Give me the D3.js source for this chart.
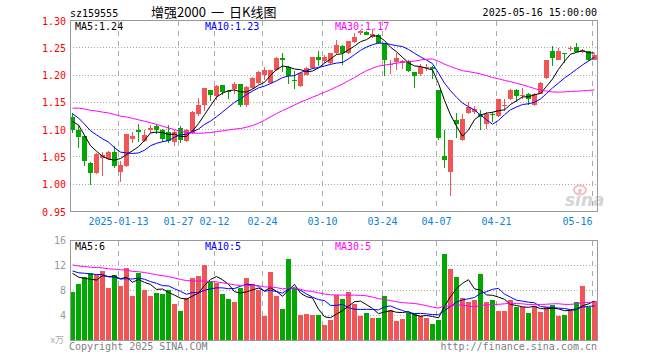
<!DOCTYPE html>
<html>
<head>
<meta charset="utf-8">
<title>增强2000 日K线图</title>
<script src="https://cdn.jsdelivr.net/npm/d3@7"></script>
<style>
  body { margin: 0; background: #fff; }
  text { font-family: "DejaVu Sans Mono", monospace; font-size: 10px; }
</style>
</head>
<body>
<script>
// trading days shown (2024-12-31 .. 2025-05-16)
var dates = ["12-31","01-02","01-03","01-06","01-07","01-08","01-09","01-10",
  "01-13","01-14","01-15","01-16","01-17","01-20","01-21","01-22","01-23","01-24",
  "01-27","02-05","02-06","02-07","02-10","02-11","02-12","02-13","02-14",
  "02-17","02-18","02-19","02-20","02-21","02-24","02-25","02-26","02-27","02-28",
  "03-03","03-04","03-05","03-06","03-07","03-10","03-11","03-12","03-13","03-14",
  "03-17","03-18","03-19","03-20","03-21","03-24","03-25","03-26","03-27","03-28",
  "03-31","04-01","04-02","04-03","04-07","04-08","04-09","04-10","04-11",
  "04-14","04-15","04-16","04-17","04-18","04-21","04-22","04-23","04-24","04-25",
  "04-28","04-29","04-30","05-06","05-07","05-08","05-09",
  "05-12","05-13","05-14","05-15","05-16"];

var open = [1.123,1.098,1.088,1.038,1.019,1.048,1.046,1.058,1.021,1.032,
  1.082,1.098,1.079,1.099,1.105,1.099,1.095,1.077,1.102,1.078,
  1.093,1.127,1.145,1.172,1.160,1.181,1.170,1.174,1.183,1.145,
  1.176,1.184,1.200,1.184,1.208,1.230,1.213,1.190,1.179,1.200,
  1.212,1.232,1.224,1.221,1.239,1.252,1.239,1.259,1.276,1.278,
  1.268,1.273,1.257,1.217,1.223,1.222,1.224,1.204,1.201,1.212,
  1.213,1.172,1.050,1.021,1.116,1.080,1.129,1.131,1.127,1.109,
  1.128,1.124,1.143,1.155,1.172,1.161,1.165,1.144,1.164,1.193,
  1.243,1.227,1.239,1.248,1.251,1.242,1.243,1.227];
var high = [1.130,1.106,1.089,1.039,1.056,1.058,1.060,1.069,1.041,1.092,
  1.095,1.110,1.098,1.108,1.110,1.100,1.107,1.099,1.105,1.100,
  1.134,1.157,1.176,1.172,1.181,1.181,1.171,1.186,1.183,1.179,
  1.195,1.207,1.213,1.209,1.232,1.240,1.216,1.206,1.204,1.213,
  1.233,1.243,1.235,1.240,1.264,1.254,1.262,1.276,1.282,1.279,
  1.284,1.275,1.258,1.226,1.239,1.227,1.226,1.205,1.220,1.220,
  1.215,1.172,1.099,1.081,1.129,1.127,1.149,1.143,1.135,1.132,
  1.132,1.155,1.155,1.173,1.173,1.175,1.167,1.167,1.186,1.226,
  1.253,1.249,1.240,1.253,1.258,1.247,1.243,1.238];
var low = [1.093,1.066,1.032,0.997,1.017,1.015,1.044,1.029,1.004,1.031,
  1.075,1.076,1.076,1.093,1.092,1.077,1.075,1.070,1.075,1.076,
  1.091,1.125,1.134,1.151,1.154,1.162,1.156,1.165,1.140,1.140,
  1.173,1.182,1.190,1.182,1.207,1.204,1.183,1.174,1.178,1.199,
  1.211,1.215,1.222,1.219,1.238,1.218,1.238,1.258,1.272,1.272,
  1.267,1.256,1.198,1.201,1.209,1.210,1.204,1.176,1.198,1.207,
  1.192,1.080,1.028,0.978,1.083,1.078,1.127,1.127,1.099,1.100,
  1.114,1.123,1.134,1.153,1.149,1.155,1.144,1.143,1.164,1.192,
  1.215,1.226,1.221,1.243,1.241,1.239,1.224,1.226];
var close = [1.098,1.085,1.041,1.019,1.055,1.052,1.058,1.032,1.034,1.091,
  1.087,1.095,1.090,1.102,1.099,1.082,1.078,1.094,1.080,1.099,
  1.132,1.145,1.176,1.162,1.179,1.168,1.168,1.182,1.145,1.177,
  1.194,1.205,1.208,1.208,1.231,1.226,1.197,1.189,1.202,1.212,
  1.232,1.226,1.233,1.239,1.254,1.239,1.261,1.268,1.279,1.273,
  1.275,1.257,1.227,1.219,1.231,1.224,1.207,1.198,1.214,1.214,
  1.210,1.083,1.043,1.081,1.110,1.118,1.141,1.137,1.123,1.127,
  1.127,1.155,1.145,1.172,1.161,1.163,1.155,1.164,1.184,1.226,
  1.230,1.244,1.238,1.249,1.242,1.245,1.226,1.235];
// volume, 万
var volume = [7.73,9.0,10.1,10.8,10.4,11.1,8.37,10.45,8.69,11.57,
  7.09,10.66,8.05,7.09,7.57,7.41,8.0,5.81,4.69,6.72,
  9.97,10.29,12.05,9.38,9.11,7.41,6.61,6.13,8.37,9.97,
  9.0,8.05,3.89,10.93,7.09,5.01,13.0,8.4,4.05,4.2,
  3.95,4.05,2.35,3.25,7.2,6.6,7.73,5.81,3.78,4.37,
  3.57,3.57,7.09,4.85,3.09,3.36,4.37,4.37,3.89,3.57,
  2.61,3.25,13.8,11.4,10.13,6.77,6.13,6.45,10.6,6.13,
  6.45,4.69,4.69,6.45,5.33,5.33,4.37,5.49,4.53,5.33,
  5.65,3.89,4.05,4.69,6.13,8.69,5.33,6.29];
// 29 sessions before the window (only feed the moving averages)
var prevClose = [1.08,1.09,1.085,1.10,1.11,1.105,1.115,1.125,
  1.14,1.16,1.175,1.17,1.185,1.19,1.18,1.175,1.185,1.17,1.165,1.165,
  1.16,1.155,1.14,1.13,1.125,1.117,1.135,1.115,1.105];
var prevVolume = [13.5,12.8,14.2,11.9,12.6,13.1,12.2,11.5,12.9,13.8,
  12.1,11.7,12.4,13.0,11.8,12.6,12.3,11.9,12.0,11.3,
  11.8,10.9,12.0,11.2,11.15,12.1,11.0,11.6,10.92];

var priceTicks = [0.95,1.00,1.05,1.10,1.15,1.20,1.25,1.30];
var volTicks = [4,8,12,16];
var tickDates = ["01-13","01-27","02-12","02-24","03-10","03-24","04-07","04-21","05-16"];
var tickLabels = ["2025-01-13","01-27","02-12","02-24","03-10","03-24","04-07","04-21","05-16"];
var maPeriods = [5,10,30];
var maColors = ["#000000","#0000ff","#ff00ff"];
var priceMaText = ["MA5:1.24","MA10:1.23","MA30:1.17"];
var volMaText = ["MA5:6","MA10:5","MA30:5"];

var W = 660, H = 360;
var left = 70, right = 597;
var red = "#f25555", green = "#00a800";

var svg = d3.select("body").append("svg")
  .attr("width", W).attr("height", H);

var x = d3.scaleBand().domain(dates).range([left - 1, right]);
var yP = d3.scaleLinear().domain([0.95, 1.30]).range([211, 20]);
var yV = d3.scaleLinear().domain([0, 16]).range([340, 240]);

function ma(all, n, count) {
  var out = [];
  var off = all.length - count;
  for (var i = 0; i < count; i++) {
    out.push(d3.mean(all.slice(off + i - n + 1, off + i + 1)));
  }
  return out;
}
var allClose = prevClose.concat(close);
var allVol = prevVolume.concat(volume);
var priceMa = maPeriods.map(function(n) { return ma(allClose, n, close.length); });
var volMa = maPeriods.map(function(n) { return ma(allVol, n, volume.length); });

var idx = d3.range(dates.length);
var cx = function(i) { return x(dates[i]) + 3.5; };
function isUp(i) { return close[i] >= open[i]; }

// ---------- header ----------
svg.append("text").attr("x", 70).attr("y", 16.5).text("sz159555");
var title = svg.append("text").attr("y", 17)
  .style("font-family", "'Noto Sans CJK SC', sans-serif").style("font-size", "13px");
title.append("tspan").attr("x", 151).text("增强2000");
title.append("tspan").attr("x", 211).text("一");
title.append("tspan").attr("x", 229).text("日K线图");
svg.append("text").attr("x", 597).attr("y", 16).attr("text-anchor", "end")
  .text("2025-05-16 15:00:00");

// ---------- grids ----------
function panelGrid(yScale, levels, top, bottom) {
  var g = svg.append("g").attr("shape-rendering", "crispEdges");
  g.selectAll("line.h").data(levels).enter().append("line")
    .attr("x1", left).attr("x2", right)
    .attr("y1", function(d) { return Math.round(yScale(d)) + 0.5; })
    .attr("y2", function(d) { return Math.round(yScale(d)) + 0.5; })
    .attr("stroke", "#aaa").attr("stroke-dasharray", "1,2");
  g.selectAll("line.v").data(tickDates).enter().append("line")
    .attr("x1", function(d) { return x(d) + 1.5; })
    .attr("x2", function(d) { return x(d) + 1.5; })
    .attr("y1", top).attr("y2", bottom)
    .attr("stroke", "#aaa").attr("stroke-dasharray", "5,5");
}
panelGrid(yP, [1.00,1.05,1.10,1.15,1.20,1.25], 21, 211);
panelGrid(yV, [4,8,12], 241, 340);

// price axis labels
svg.append("g").selectAll("text").data(priceTicks).enter().append("text")
  .attr("x", 66).attr("y", function(d) { return yP(d) + 4.5; })
  .attr("text-anchor", "end").attr("fill", "#ff0000")
  .text(function(d) { return d.toFixed(2); });

// volume axis labels
svg.append("g").selectAll("text").data(volTicks).enter().append("text")
  .attr("x", 66).attr("y", function(d) { return yV(d) + 4; })
  .attr("text-anchor", "end").attr("fill", "#999")
  .text(function(d) { return d; });
svg.append("text").attr("x", 64).attr("y", 343).attr("text-anchor", "end")
  .attr("fill", "#aaa").style("font-family", "'Noto Sans CJK SC', sans-serif")
  .style("font-size", "9px").text("x万");

// date labels
svg.append("g").selectAll("text").data(tickDates).enter().append("text")
  .attr("x", function(d) { return x(d) + 1.5; })
  .attr("y", 225)
  .attr("text-anchor", function(d, i) { return i === tickDates.length - 1 ? "end" : "middle"; })
  .attr("fill", "#0a84d8")
  .text(function(d, i) { return tickLabels[i]; });

// sina watermark
var wm = svg.append("g").attr("opacity", 0.75);
wm.append("ellipse").attr("cx", 580).attr("cy", 190).attr("rx", 6).attr("ry", 4.5)
  .attr("fill", "none").attr("stroke", "#f0a8a8").attr("stroke-width", 2);
wm.append("circle").attr("cx", 580).attr("cy", 190.5).attr("r", 1.8).attr("fill", "#f0a8a8");
wm.append("text").attr("x", 565).attr("y", 206)
  .style("font-family", "'DejaVu Sans', sans-serif").style("font-size", "17px")
  .style("font-weight", "bold").style("font-style", "italic")
  .attr("fill", "#c8c8c8").text("sina");

// ---------- candles ----------
var cg = svg.append("g").attr("shape-rendering", "crispEdges");
cg.selectAll("line").data(idx).enter().append("line")
  .attr("x1", cx).attr("x2", cx)
  .attr("y1", function(i) { return yP(high[i]); })
  .attr("y2", function(i) { return yP(low[i]); })
  .attr("stroke", function(i) { return isUp(i) ? red : green; });
cg.selectAll("rect").data(idx).enter().append("rect")
  .attr("x", function(i) { return x(dates[i]) + 1; })
  .attr("width", 5)
  .attr("y", function(i) { return yP(Math.max(open[i], close[i])); })
  .attr("height", function(i) { return Math.max(1, Math.abs(yP(open[i]) - yP(close[i]))); })
  .attr("fill", function(i) { return isUp(i) ? red : green; });

// ---------- volume bars ----------
svg.append("g").attr("shape-rendering", "crispEdges")
  .selectAll("rect").data(idx).enter().append("rect")
  .attr("x", function(i) { return x(dates[i]) + 1; })
  .attr("width", 5)
  .attr("y", function(i) { return yV(volume[i]); })
  .attr("height", function(i) { return yV(0) - yV(volume[i]); })
  .attr("fill", function(i) { return isUp(i) ? red : green; });

// ---------- moving averages ----------
maPeriods.forEach(function(n, k) {
  svg.append("path").datum(idx)
    .attr("fill", "none").attr("stroke", maColors[k]).attr("stroke-width", 1)
    .attr("d", d3.line().x(cx).y(function(i) { return yP(priceMa[k][i]); }));
  svg.append("path").datum(idx)
    .attr("fill", "none").attr("stroke", maColors[k]).attr("stroke-width", 1)
    .attr("d", d3.line().x(cx).y(function(i) { return yV(volMa[k][i]); }));
});

// legends
var legendX = [75, 205, 335];
maPeriods.forEach(function(n, k) {
  svg.append("text").attr("x", legendX[k]).attr("y", 29.5)
    .attr("fill", maColors[k]).text(priceMaText[k]);
  svg.append("text").attr("x", legendX[k]).attr("y", 250)
    .attr("fill", maColors[k]).text(volMaText[k]);
});

// ---------- frames ----------
svg.append("rect").attr("x", 70.5).attr("y", 20.5).attr("width", 527).attr("height", 191)
  .attr("fill", "none").attr("stroke", "#999").attr("shape-rendering", "crispEdges");
svg.append("rect").attr("x", 70.5).attr("y", 240.5).attr("width", 527).attr("height", 100)
  .attr("fill", "none").attr("stroke", "#999").attr("shape-rendering", "crispEdges");

// footer
svg.append("text").attr("x", 69).attr("y", 349.5).attr("fill", "#808080")
  .text("Copyright 2025 SINA.COM");
svg.append("text").attr("x", 597).attr("y", 349.5).attr("text-anchor", "end")
  .attr("fill", "#808080").text("http://finance.sina.com.cn");
</script>
</body>
</html>
